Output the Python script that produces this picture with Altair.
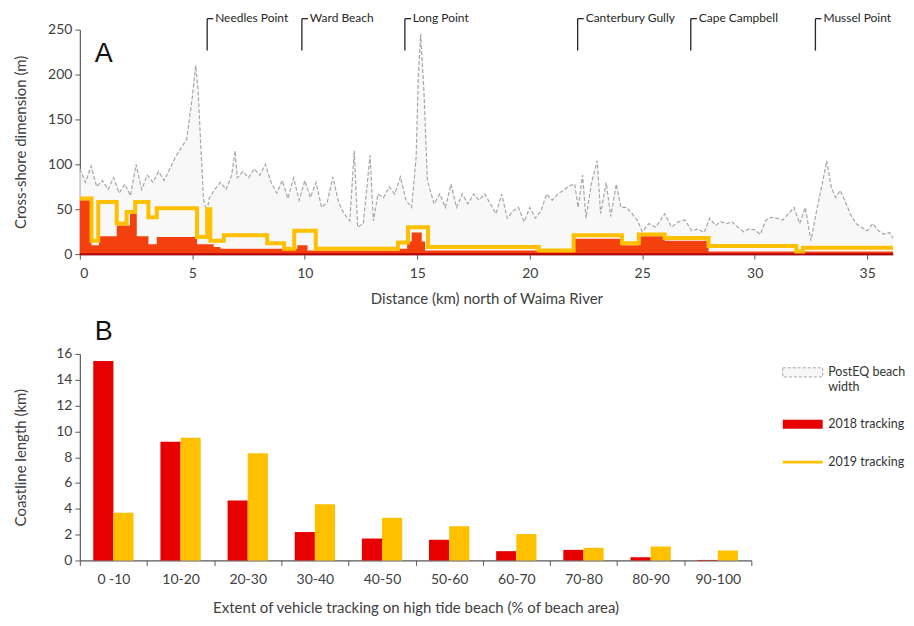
import altair as alt
import pandas as pd

FONT = "Lato"
AXIS_COLOR = "#595959"
TEXT_COLOR = "#404040"

# ---------------- Panel A data ----------------
posteq_km = [0, 0.25, 0.5, 0.75, 1.0, 1.25, 1.5, 1.75, 2.0, 2.25, 2.5, 2.75, 3.0, 3.25, 3.5, 3.75,
             4.0, 4.25, 4.5, 4.75, 5.0, 5.15, 5.25, 5.4, 5.5, 5.65, 5.75, 6.0, 6.25, 6.5, 6.75, 6.9,
             7.0, 7.25, 7.5, 7.75, 8.0, 8.25, 8.5, 8.75, 9.0, 9.25, 9.5, 9.75, 10.0, 10.25, 10.5,
             10.75, 11.0, 11.25, 11.5, 11.75, 12.0, 12.2, 12.35, 12.6, 12.9, 13.05, 13.25, 13.5,
             13.75, 14.0, 14.25, 14.5, 14.75, 14.95, 15.05, 15.15, 15.3, 15.45, 15.75, 16.0, 16.25,
             16.5, 16.75, 17.0, 17.25, 17.5, 17.75, 18.0, 18.25, 18.5, 18.75, 19.0, 19.25, 19.5,
             19.75, 20.0, 20.25, 20.5, 20.75, 21.0, 21.25, 21.5, 21.75, 22.0, 22.15, 22.35, 22.5,
             22.75, 23.0, 23.15, 23.4, 23.6, 23.85, 24.05, 24.3, 24.55, 24.8, 25.0, 25.3, 25.6,
             26.0, 26.3, 26.6, 26.9, 27.2, 27.5, 27.75, 28.0, 28.25, 28.5, 28.75, 29.0, 29.25,
             29.5, 29.75, 30.0, 30.25, 30.5, 30.75, 31.0, 31.25, 31.5, 31.75, 32.0, 32.25, 32.5,
             32.75, 33.0, 33.2, 33.4, 33.6, 33.8, 34.0, 34.25, 34.5, 34.75, 35.0, 35.25, 35.5,
             35.75, 36.0, 36.15]
posteq_m = [95, 80, 98, 75, 82, 72, 85, 68, 78, 65, 100, 72, 88, 80, 92, 82,
            95, 108, 118, 128, 175, 210, 185, 110, 60, 48, 62, 72, 80, 72, 88, 115,
            85, 92, 85, 95, 88, 100, 80, 68, 82, 62, 85, 60, 82, 63, 80,
            52, 58, 86, 58, 45, 37, 115, 30, 34, 110, 37, 67, 63,
            75, 67, 86, 60, 52, 108, 200, 245, 180, 82, 56, 67, 52,
            78, 52, 67, 56, 67, 60, 67, 56, 45, 67, 40, 48, 52,
            36, 52, 40, 48, 67, 60, 67, 71, 76, 78, 52, 88, 40,
            80, 104, 45, 80, 42, 78, 52, 52, 45, 37, 25, 34, 30,
            45, 30, 36, 38, 26, 28, 24, 40, 32, 36, 34, 36, 30,
            25, 28, 27, 22, 38, 41, 40, 38, 45, 52, 34, 52, 15,
            48, 78, 104, 75, 63, 71, 60, 45, 34, 30, 26, 34, 26,
            22, 24, 18]

t2018_km = [0, 0.52, 0.85, 1.64, 2.23, 2.53, 3.05, 3.42, 5.21, 5.95, 6.25, 9.67, 10.12, 14.1,
            14.55, 14.75, 15.2, 15.35, 22.0, 24.1, 24.85, 26.0, 27.95, 36.15]
t2018_m = [60, 10, 20, 32, 47, 20, 11, 19, 11, 8, 6, 10, 4, 6,
           14, 24, 14, 4, 17, 10, 20, 15, 3, 3]

t2019_km = [0, 0.52, 0.82, 1.64, 2.08, 2.46, 3.05, 3.42, 5.21, 5.66, 5.8, 6.4, 8.33, 9.08,
            9.53, 10.49, 14.14, 14.59, 15.48, 20.4, 21.95, 24.1, 24.85, 26.0, 27.95, 31.85,
            32.15, 36.15]
t2019_m = [62, 15, 58, 34, 47, 58, 41, 51, 19, 50, 15, 21, 12, 6,
           26, 6, 13, 30, 8, 4, 21, 12, 22, 18, 9, 3,
           7, 7]

landmark_names = ["Needles Point", "Ward Beach", "Long Point", "Canterbury Gully",
                  "Cape Campbell", "Mussel Point"]
landmark_km = [5.66, 9.87, 14.45, 22.13, 27.16, 32.7]

# ---------------- Panel B data ----------------
range_labels = ["0 -10", "10-20", "20-30", "30-40", "40-50", "50-60", "60-70", "70-80",
                "80-90", "90-100"]
length_2018 = [15.45, 9.2, 4.65, 2.2, 1.7, 1.6, 0.72, 0.82, 0.25, 0.04]
length_2019 = [3.7, 9.5, 8.3, 4.35, 3.3, 2.65, 2.05, 0.98, 1.08, 0.77]

series_names = ["PostEQ beach width", "2018 tracking", "2019 tracking"]
series_colors = ["#f7f7f7", "#e60000", "#ffc000"]

# ---------------- frames ----------------
posteq_df = pd.DataFrame({"km": posteq_km, "m": posteq_m})
t2018_df = pd.DataFrame({"km": t2018_km, "m": t2018_m})
t2019_df = pd.DataFrame({"km": t2019_km, "m": t2019_m})
land_df = pd.DataFrame({"name": landmark_names, "km": landmark_km})
bars_df = pd.DataFrame({
    "range": range_labels * 2,
    "series": ["2018 tracking"] * len(range_labels) + ["2019 tracking"] * len(range_labels),
    "length": length_2018 + length_2019,
})

# ---------------- Panel A ----------------
x_scale = alt.Scale(domain=[0, 36.15], nice=False, zero=False)
y_scale = alt.Scale(domain=[0, 250], nice=False)

x_enc = alt.X("km:Q", scale=x_scale,
              axis=alt.Axis(values=[0, 5, 10, 15, 20, 25, 30, 35],
                            title="Distance (km) north of Waima River",
                            labelPadding=7, titlePadding=11))
y_enc = alt.Y("m:Q", scale=y_scale,
              axis=alt.Axis(values=[0, 50, 100, 150, 200, 250],
                            title="Cross-shore dimension (m)",
                            labelPadding=3, titlePadding=19))

posteq = alt.Chart(posteq_df).mark_area(
    color="#f5f5f5",
    line={"color": "#a6a6a6", "strokeDash": [4, 2], "strokeWidth": 1.2},
).encode(x=x_enc, y=y_enc)

red = alt.Chart(t2018_df).mark_area(interpolate="step-after", color="#f4400c").encode(
    x=x_enc, y=y_enc)

red_base = alt.Chart(t2018_df).transform_calculate(m="0").mark_line(
    color="#b80000", strokeWidth=2).encode(x=x_enc, y=y_enc)

orange = alt.Chart(t2019_df).mark_line(
    interpolate="step-after", color="#ffc000", strokeWidth=4).encode(x=x_enc, y=y_enc)

land_rule = alt.Chart(land_df).mark_rule(color="#262626", strokeWidth=1.3).encode(
    x=x_enc, y=alt.value(-11), y2=alt.value(21))
land_hook = alt.Chart(land_df).transform_calculate(km_end="datum.km + 0.27").mark_rule(
    color="#262626", strokeWidth=1.3).encode(
    x=x_enc, x2="km_end:Q", y=alt.value(-11))
land_text = alt.Chart(land_df).mark_text(
    align="left", baseline="middle", dx=8, font=FONT, fontSize=12, color="#262626").encode(
    x=x_enc, y=alt.value(-12), text="name:N")

letter_a = alt.Chart(pd.DataFrame({"t": ["A"]})).mark_text(
    font="Liberation Sans", fontSize=27, color="#111111").encode(
    x=alt.value(24), y=alt.value(24), text="t:N")

panel_a = alt.layer(posteq, red, red_base, orange, land_rule, land_hook, land_text,
                    letter_a).properties(width=815, height=225)

# ---------------- Panel B ----------------
sym_expr = ("datum.value == '2019 tracking' ? 'M-1,-0.07L1,-0.07L1,0.07L-1,0.07Z' "
            ": 'M-1,-0.23L1,-0.23L1,0.23L-1,0.23Z'")

bars = alt.Chart(bars_df).mark_bar().encode(
    x=alt.X("range:N", sort=range_labels,
            scale=alt.Scale(paddingInner=0, paddingOuter=0),
            axis=alt.Axis(title="Extent of vehicle tracking on high tide beach (% of beach area)",
                          labelAngle=0, tickBand="extent", labelPadding=7, titlePadding=14)),
    xOffset=alt.XOffset("series:N",
                        scale=alt.Scale(domain=["2018 tracking", "2019 tracking"],
                                        paddingInner=0, paddingOuter=0.667)),
    y=alt.Y("length:Q", scale=alt.Scale(domain=[0, 16], nice=False),
            axis=alt.Axis(values=list(range(0, 17, 2)), title="Coastline length (km)",
                          labelPadding=3, titlePadding=27)),
    color=alt.Color("series:N",
                    scale=alt.Scale(domain=series_names, range=series_colors),
                    legend=alt.Legend(
                        title=None, orient="none", legendX=704, legendY=323,
                        symbolType={"expr": sym_expr}, symbolSize=1600,
                        symbolStrokeColor={"expr": "datum.value == 'PostEQ beach width' ? '#a6a6a6' : 'transparent'"},
                        symbolStrokeWidth=1,
                        symbolDash=[3, 2],
                        labelExpr="datum.label == 'PostEQ beach width' ? ['PostEQ beach', 'width'] : datum.label",
                        labelFont=FONT, labelFontSize=12.5, labelColor="#333333",
                        labelOffset=5, labelLimit=78, rowPadding=10)),
)

letter_b = alt.Chart(pd.DataFrame({"t": ["B"]})).mark_text(
    font="Liberation Sans", fontSize=27, color="#111111").encode(
    x=alt.value(24), y=alt.value(-22), text="t:N")

panel_b = alt.layer(bars, letter_b).properties(width=673, height=207)

chart = alt.vconcat(panel_a, panel_b, spacing=12).properties(
    padding={"left": 5, "top": 3, "right": 0, "bottom": 5}
).configure_view(stroke=None).configure_axis(
    grid=False, domainColor=AXIS_COLOR, tickColor=AXIS_COLOR, tickSize=5,
    labelFont=FONT, labelFontSize=14, labelColor=TEXT_COLOR,
    titleFont=FONT, titleFontSize=15, titleFontWeight="normal", titleColor=TEXT_COLOR,
    domainWidth=1.2,
).configure_concat(spacing=12)

chart.save("out.html", embed_options={"renderer": "svg", "actions": False})
